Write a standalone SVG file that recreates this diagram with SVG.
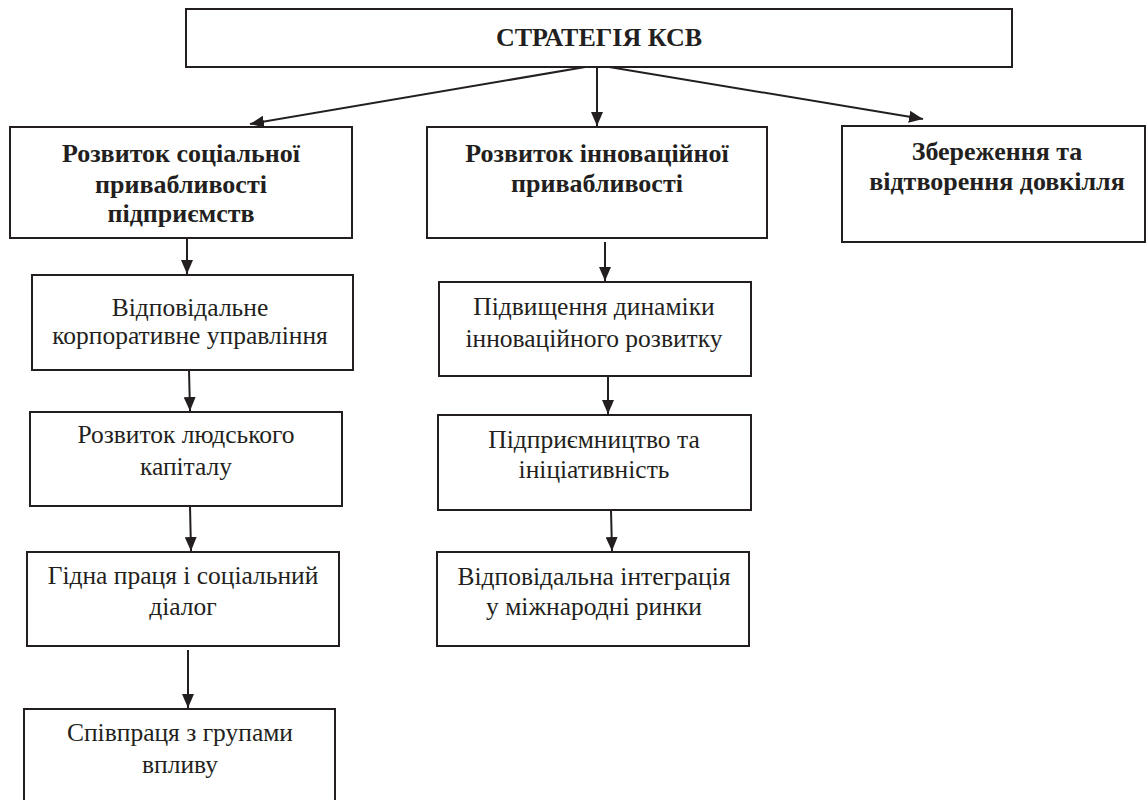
<svg xmlns="http://www.w3.org/2000/svg" width="1147" height="800" viewBox="0 0 1147 800">
<style>
.box{fill:#fff;stroke:#231f20;stroke-width:2}
.b{font-family:"Liberation Serif","Times New Roman",serif;font-weight:bold;font-size:26px;fill:#231f20;text-anchor:middle}
.r{font-family:"Liberation Serif","Times New Roman",serif;font-size:25.5px;fill:#231f20;text-anchor:middle}
.c{stroke:#231f20;stroke-width:2;fill:none;marker-end:url(#ah)}
</style>
<defs>
<marker id="ah" viewBox="0 0 14 12" refX="14" refY="6" markerWidth="14" markerHeight="12" markerUnits="userSpaceOnUse" orient="auto">
<path d="M0,0 L14,6 L0,12 Z" fill="#231f20"/>
</marker>
</defs>
<rect width="1147" height="800" fill="#fff"/>
<g id="connectors">
<line class="c" x1="597" y1="65" x2="250" y2="124"/>
<line class="c" x1="597" y1="65" x2="597" y2="126"/>
<line class="c" x1="597" y1="65" x2="923" y2="119"/>
<line class="c" x1="187" y1="238" x2="187" y2="274"/>
<line class="c" x1="189" y1="370" x2="190" y2="411"/>
<line class="c" x1="190" y1="506" x2="191" y2="551"/>
<line class="c" x1="188" y1="650" x2="188" y2="708"/>
<line class="c" x1="605" y1="242" x2="605" y2="281"/>
<line class="c" x1="608" y1="376" x2="608" y2="414"/>
<line class="c" x1="611" y1="510" x2="612" y2="551"/>
</g>
<g id="top">
<rect class="box" x="186" y="9" width="826" height="58"/>
<text class="b" x="599" y="46">СТРАТЕГІЯ КСВ</text>
</g>
<g id="social">
<rect class="box" x="10" y="127" width="342" height="111"/>
<text class="b" x="181" y="162">Розвиток соціальної</text>
<text class="b" x="181" y="193">привабливості</text>
<text class="b" x="181" y="222">підприємств</text>
</g>
<g id="innov">
<rect class="box" x="427" y="127" width="340" height="111"/>
<text class="b" x="597" y="162">Розвиток інноваційної</text>
<text class="b" x="597" y="192">привабливості</text>
</g>
<g id="env">
<rect class="box" x="842" y="126" width="303" height="116"/>
<text class="b" x="997" y="160">Збереження та</text>
<text class="b" x="997" y="190">відтворення довкілля</text>
</g>
<g id="corp">
<rect class="box" x="32" y="275" width="321" height="95"/>
<text class="r" x="190" y="316">Відповідальне</text>
<text class="r" x="190" y="344">корпоративне управління</text>
</g>
<g id="human">
<rect class="box" x="30" y="412" width="312" height="94"/>
<text class="r" x="186" y="443">Розвиток людського</text>
<text class="r" x="186" y="475">капіталу</text>
</g>
<g id="labour">
<rect class="box" x="27" y="552" width="312" height="94"/>
<text class="r" x="183" y="584">Гідна праця і соціальний</text>
<text class="r" x="183" y="615">діалог</text>
</g>
<g id="groups">
<rect class="box" x="24" y="709" width="311" height="100"/>
<text class="r" x="180" y="741">Співпраця з групами</text>
<text class="r" x="180" y="773">впливу</text>
</g>
<g id="dynamics">
<rect class="box" x="439" y="282" width="312" height="94"/>
<text class="r" x="594" y="315">Підвищення динаміки</text>
<text class="r" x="594" y="347">інноваційного розвитку</text>
</g>
<g id="entrep">
<rect class="box" x="438" y="415" width="313" height="95"/>
<text class="r" x="594" y="448">Підприємництво та</text>
<text class="r" x="594" y="478">ініціативність</text>
</g>
<g id="integr">
<rect class="box" x="437" y="552" width="312" height="94"/>
<text class="r" x="594" y="585">Відповідальна інтеграція</text>
<text class="r" x="594" y="615">у міжнародні ринки</text>
</g>
</svg>
